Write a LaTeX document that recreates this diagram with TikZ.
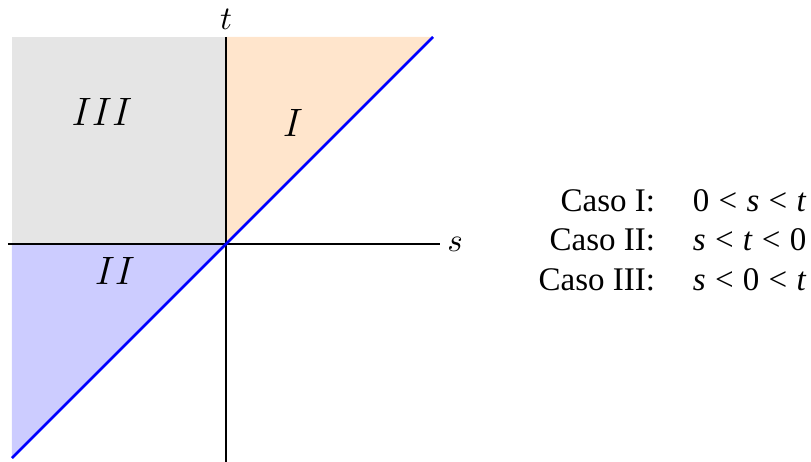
\documentclass[tikz,border=0pt]{standalone}
\usepackage{fontspec}
\newfontfamily\casofont{Liberation Serif}
\usetikzlibrary{positioning}
\newcommand\casorel[1]{\hspace{0.28em}#1\hspace{0.28em}}

\begin{document}
\begin{tikzpicture}[x=0.303pt,y=0.303pt]
  \tikzset{axis/.style={thick},diag/.style={blue,thick},
    region/.style={font=\large},axlabel/.style={inner sep=2pt}}
  \useasboundingbox (-226,-218) rectangle (585,244);
  % regions
  \fill[gray!20] (-214,0) rectangle (0,207);
  \fill[orange!20] (0,0) -- (0,207) -- (207,207) -- cycle;
  \fill[blue!20] (0,0) -- (-214,0) -- (-214,-214) -- cycle;
  % axes
  \coordinate (sl) at (-218,0);
  \coordinate (sr) at (214,0);
  \coordinate (tb) at (0,-220);
  \coordinate (tt) at (0,207);
  \draw[axis] (sl) -- (sr);
  \draw[axis] (tb) -- (tt);
  \node[axlabel,right=0pt of sr] (s) {$s$};
  \node[axlabel,above=0pt of tt] (t) {$t$};
  % diagonal s = t
  \coordinate (dl) at (-214,-214);
  \coordinate (du) at (207,207);
  \draw[diag] (dl) -- (du);
  \node[region] (r3) at (-124,132) {$III$};
  \node[region] (r1) at (67,121) {$I$};
  \node[region] (r2) at (-111,-27) {$II$};
  % casos
  \node[anchor=east,inner sep=0pt,font=\casofont] (casos) at (581,1) {%
    \begin{tabular}{@{}r@{\hspace{1.15em}}l@{}}
      Caso I: & 0\casorel{<}\textit{s}\casorel{<}\textit{t}\\
      Caso II: & \textit{s}\casorel{<}\textit{t}\casorel{<}0\\
      Caso III: & \textit{s}\casorel{<}0\casorel{<}\textit{t}
    \end{tabular}};
\end{tikzpicture}
\end{document}
